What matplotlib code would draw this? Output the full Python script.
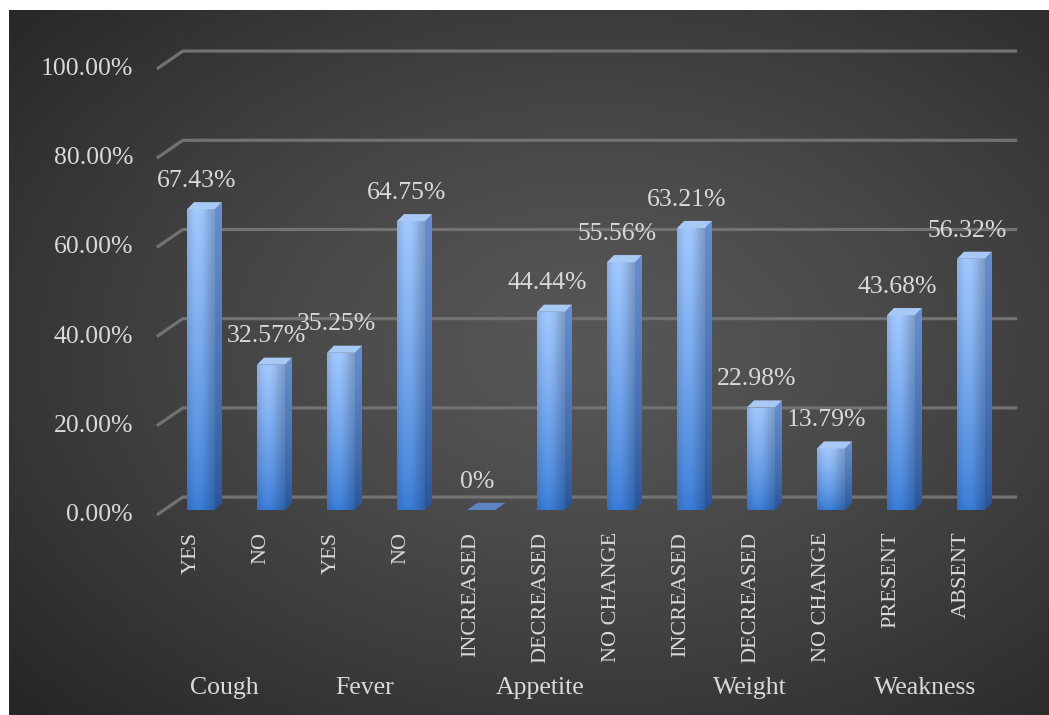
import matplotlib.pyplot as plt
import numpy as np
from matplotlib.patches import Polygon

# survey results, one bar per answer
groups = ["Cough", "Fever", "Appetite", "Weight", "Weakness"]
group_sizes = [2, 2, 3, 3, 2]
categories = ["YES", "NO", "YES", "NO", "INCREASED", "DECREASED", "NO CHANGE",
              "INCREASED", "DECREASED", "NO CHANGE", "PRESENT", "ABSENT"]
values = [67.43, 32.57, 35.25, 64.75, 0, 44.44, 55.56, 63.21, 22.98, 13.79, 43.68, 56.32]
ticks = [0, 20, 40, 60, 80, 100]

plt.rcParams['font.family'] = ['Liberation Serif', 'DejaVu Serif']
txt = '#d9d9d9'

W, H = 1049, 715
fig = plt.figure(figsize=(W / 100, H / 100), dpi=100)
fig.patch.set_facecolor('white')

# dark radial background
bg = fig.add_axes([9 / W, 0, 1 - 9 / W, 1 - 10 / H])
bg.set_axis_off()
yy, xx = np.mgrid[0:1:300j, 0:1:400j]
r = np.sqrt(((xx - 0.56) / 0.75) ** 2 + ((yy - 0.52) / 0.75) ** 2)
r = np.clip(r, 0, 1)
shade = 0.34 - 0.19 * r ** 1.3
bg.imshow(np.dstack([shade] * 3), extent=(0, 1, 0, 1), aspect='auto', origin='lower')
bg.set_xlim(0, 1)
bg.set_ylim(0, 1)

ax = fig.add_axes([0, 0, 1, 1])
ax.set_axis_off()
ax.patch.set_alpha(0)
ax.set_xlim(-201 / 70, (W - 201) / 70)
ax.set_ylim((510 - H) / 4.46, 510 / 4.46)

# pseudo-3d geometry (category units / percent units)
bw = 0.4        # front face width
dx, dy = 0.1, 1.6   # bar depth
gx0, gx1 = -0.63, -0.26   # grid diagonal, front -> back
g_front, g_back = -1.1, 2.9
g_right = 11.66

for t in ticks:
    ax.plot([gx0, gx1, g_right], [t + g_front, t + g_back, t + g_back],
            color='#727272', lw=2.3, solid_capstyle='butt', zorder=1)
    ax.text(gx0 - 0.34, t + g_front, f"{t:.2f}%", ha='right', va='center',
            color=txt, fontsize=18.5)


def grad_img(top, bot, n=64, m=16, side=False):
    v = np.linspace(0, 1, n)[:, None, None] ** 0.8
    img = np.array(bot)[None, None, :] * (1 - v) + np.array(top)[None, None, :] * v
    h = np.linspace(0, 1, m)
    if side:
        prof = np.ones(m)
    else:
        prof = 0.9 + 0.12 * np.sin(np.pi * np.clip(h * 1.3, 0, 1)) - 0.1 * np.clip(h - 0.75, 0, 1) * 4
    img = img * prof[None, :, None]
    return np.clip(img, 0, 1)


front_img = grad_img((0.62, 0.77, 0.98), (0.22, 0.48, 0.83))
side_img = grad_img((0.40, 0.56, 0.82), (0.16, 0.33, 0.60), side=True)

for i, v in enumerate(values):
    x0, x1 = i - bw / 2, i + bw / 2
    if v > 0:
        face = Polygon([(x0, 0), (x1, 0), (x1, v), (x0, v)], closed=True,
                       fc='none', ec='none')
        ax.add_patch(face)
        im = ax.imshow(front_img, extent=(x0, x1, 0, v), origin='lower',
                       aspect='auto', zorder=3)
        im.set_clip_path(face)
        side = Polygon([(x1, 0), (x1 + dx, dy), (x1 + dx, v + dy), (x1, v)],
                       closed=True, fc='none', ec='none')
        ax.add_patch(side)
        im2 = ax.imshow(side_img, extent=(x1, x1 + dx, 0, v + dy), origin='lower',
                        aspect='auto', zorder=3)
        im2.set_clip_path(side)
        top = Polygon([(x0, v), (x0 + dx, v + dy), (x1 + dx, v + dy), (x1, v)],
                      closed=True, fc='#a8c8f6', ec='none', zorder=4)
        ax.add_patch(top)
        label = f"{v:.2f}%"
    else:
        top = Polygon([(x0, 0), (x0 + dx * 1.5, dy), (x1 + dx * 1.5, dy), (x1, 0)],
                      closed=True, fc='#5a84c4', ec='none', zorder=4)
        ax.add_patch(top)
        label = "0%"
    ax.text(i - 0.06, v + dy + 3.4, label, ha='center', va='baseline',
            color=txt, fontsize=18.5, zorder=5)
    ax.text(i - 0.14, -4.9, categories[i], rotation=90, ha='center', va='top',
            color=txt, fontsize=16)

start = 0
for g, n in zip(groups, group_sizes):
    cx = start + (n - 1) / 2
    ax.text(cx - 0.16, -39.9, g, ha='center', va='center', color=txt, fontsize=18.5)
    start += n

fig.savefig('out.png', dpi=100)
